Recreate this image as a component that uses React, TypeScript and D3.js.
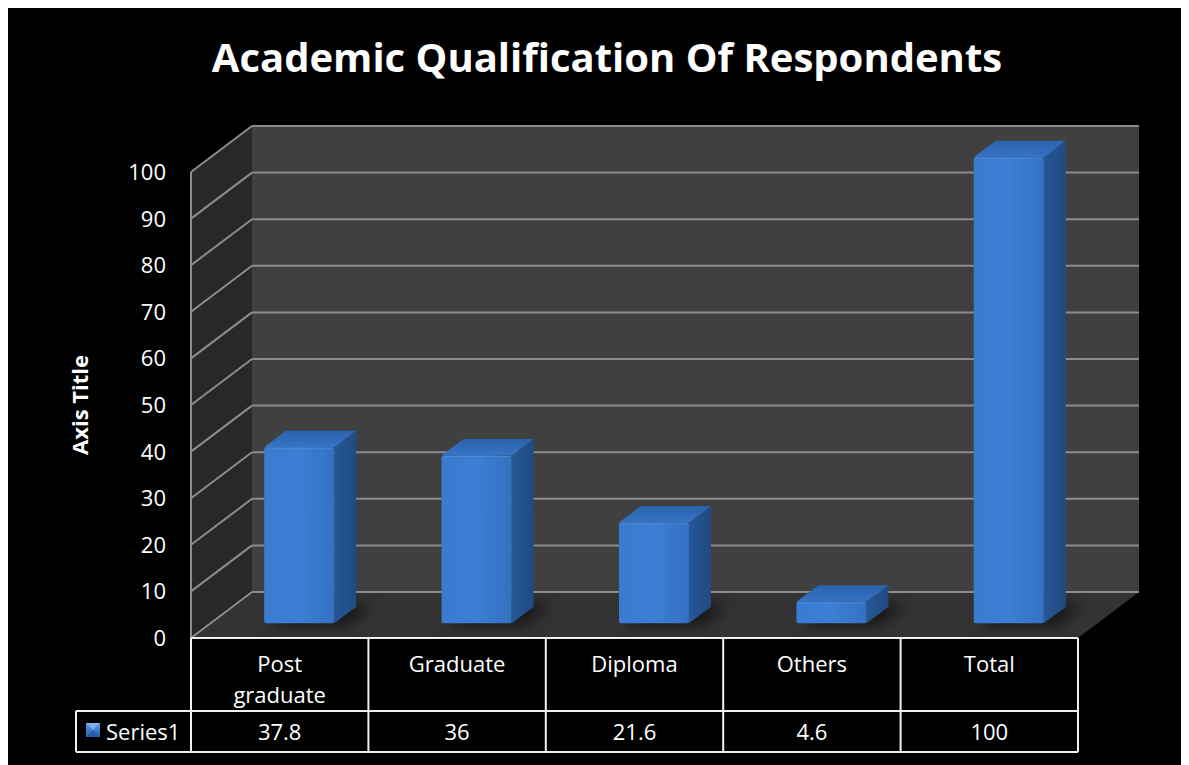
import React from "react";
import * as d3 from "d3";

// Chart data
const categories = ["Post graduate", "Graduate", "Diploma", "Others", "Total"];
const categoryLines = [["Post", "graduate"], ["Graduate"], ["Diploma"], ["Others"], ["Total"]];
const series1 = [37.8, 36, 21.6, 4.6, 100];
const valueLabels = ["37.8", "36", "21.6", "4.6", "100"];
const yTicks = [0, 10, 20, 30, 40, 50, 60, 70, 80, 90, 100];
const seriesName = "Series1";
const chartTitle = "Academic Qualification Of Respondents";
const axisTitle = "Axis Title";

const W = 1181;
const H = 757;
const FONT = "'Open Sans', 'DejaVu Sans', sans-serif";

// Plot geometry in page coordinates (the svg sits inside the 8px body margin)
const FRONT_LEFT = 191;
const FRONT_RIGHT = 1078;
const DEPTH_DX = 61;
const DEPTH_DY = -46;
const BAR_F0 = 0.32;
const BAR_F1 = 0.68;

export default function App() {
  const y = d3.scaleLinear().domain([0, 100]).range([638, 172]);
  const x = d3.scaleBand<string>().domain(categories).range([FRONT_LEFT, FRONT_RIGHT]);
  const bw = x.bandwidth();
  const barW = bw * 0.395;

  const pt = (px: number, v: number, f: number): [number, number] => [
    px + f * DEPTH_DX,
    y(v) + f * DEPTH_DY,
  ];
  const poly = (ps: [number, number][]) => ps.map((p) => p.join(",")).join(" ");

  const y0 = y(0);
  const gridColor = "#8c8c8c";

  const floor = poly([
    [FRONT_LEFT, y0],
    [FRONT_RIGHT, y0],
    [FRONT_RIGHT + DEPTH_DX, y0 + DEPTH_DY],
    [FRONT_LEFT + DEPTH_DX, y0 + DEPTH_DY],
  ]);
  const sideWall = poly([
    [FRONT_LEFT, y0],
    [FRONT_LEFT, y(100)],
    [FRONT_LEFT + DEPTH_DX, y(100) + DEPTH_DY],
    [FRONT_LEFT + DEPTH_DX, y0 + DEPTH_DY],
  ]);
  const backX0 = FRONT_LEFT + DEPTH_DX;
  const backX1 = FRONT_RIGHT + DEPTH_DX;

  const tableTop = y0;
  const rowSplit = 711;
  const tableBottom = 752;
  const legendLeft = 76;

  return (
    <svg width={W} height={H} style={{ display: "block", background: "#000" }}>
      <defs>
        <linearGradient id="frontFace" x1="0" x2="1" y1="0" y2="0">
          <stop offset="0" stopColor="#3a7bd0" />
          <stop offset="0.5" stopColor="#3c7fd4" />
          <stop offset="1" stopColor="#3471c2" />
        </linearGradient>
        <linearGradient id="sideFace" x1="0" x2="1" y1="0" y2="0">
          <stop offset="0" stopColor="#275796" />
          <stop offset="1" stopColor="#204a82" />
        </linearGradient>
        <linearGradient id="topFace" x1="0" x2="0" y1="1" y2="0">
          <stop offset="0" stopColor="#3674c6" />
          <stop offset="1" stopColor="#2b62ab" />
        </linearGradient>
        <filter id="soft" x="-50%" y="-50%" width="200%" height="200%">
          <feGaussianBlur stdDeviation="7" />
        </filter>
        <linearGradient id="marker" x1="0" x2="0" y1="0" y2="1">
          <stop offset="0" stopColor="#5b95e0" />
          <stop offset="1" stopColor="#2c63ad" />
        </linearGradient>
      </defs>
      <rect x={0} y={0} width={W} height={H} fill="#000" />
      <g transform="translate(-8,-8)">
        {/* Title */}
        <text
          x={607}
          y={72}
          textAnchor="middle"
          fill="#fff"
          fontFamily={FONT}
          fontWeight={700}
          fontSize={40}
        >
          {chartTitle}
        </text>

        {/* Walls and floor */}
        <rect x={backX0} y={y(100) + DEPTH_DY} width={backX1 - backX0} height={y0 - y(100)} fill="#404040" />
        <polygon points={sideWall} fill="#282828" />
        <polygon points={floor} fill="#333333" />

        {/* Gridlines on back and side walls */}
        {yTicks.map((t) => (
          <g key={t}>
            <line
              x1={backX0}
              x2={backX1}
              y1={y(t) + DEPTH_DY}
              y2={y(t) + DEPTH_DY}
              stroke={gridColor}
              strokeWidth={2}
            />
            <line
              x1={FRONT_LEFT}
              x2={backX0}
              y1={y(t)}
              y2={y(t) + DEPTH_DY}
              stroke={gridColor}
              strokeWidth={2}
            />
          </g>
        ))}
        <line x1={FRONT_LEFT} x2={FRONT_LEFT} y1={y(100)} y2={y0} stroke={gridColor} strokeWidth={2} />

        {/* Bar shadows */}
        {categories.map((c, i) => {
          const cx = (x(c) as number) + bw / 2;
          const l = cx - barW / 2;
          const r = cx + barW / 2;
          const a = pt(l, 0, BAR_F0);
          const b = pt(r, 0, BAR_F0);
          const bb = pt(r + 14, 0, BAR_F1 + 0.05);
          const ab = pt(l + 10, 0, BAR_F1 + 0.05);
          return (
            <polygon
              key={"s" + i}
              points={poly([
                [a[0] + 4, a[1] + 2],
                [b[0] + 14, b[1] + 2],
                bb,
                ab,
              ])}
              fill="#000"
              opacity={0.55}
              filter="url(#soft)"
            />
          );
        })}

        {/* 3D columns */}
        {categories.map((c, i) => {
          const v = series1[i];
          const cx = (x(c) as number) + bw / 2;
          const l = cx - barW / 2;
          const r = cx + barW / 2;
          const fl0 = pt(l, 0, BAR_F0);
          const fr0 = pt(r, 0, BAR_F0);
          const flv = pt(l, v, BAR_F0);
          const frv = pt(r, v, BAR_F0);
          const br0 = pt(r, 0, BAR_F1);
          const brv = pt(r, v, BAR_F1);
          const blv = pt(l, v, BAR_F1);
          return (
            <g key={c}>
              <polygon points={poly([fr0, frv, brv, br0])} fill="url(#sideFace)" />
              <polygon points={poly([flv, frv, brv, blv])} fill="url(#topFace)" />
              <rect
                x={flv[0]}
                y={flv[1]}
                width={frv[0] - flv[0]}
                height={fl0[1] - flv[1]}
                fill="url(#frontFace)"
                rx={2}
              />
              <line
                x1={flv[0] + 2}
                x2={frv[0] - 1}
                y1={flv[1] + 1}
                y2={frv[1] + 1}
                stroke="#5a93dc"
                strokeWidth={1}
                opacity={0.6}
              />
            </g>
          );
        })}

        {/* Value axis labels */}
        {yTicks.map((t) => (
          <text
            key={"t" + t}
            x={166}
            y={y(t) + 8}
            textAnchor="end"
            fill="#fff"
            fontFamily={FONT}
            fontSize={22}
          >
            {t}
          </text>
        ))}
        <text
          transform={`translate(88,405) rotate(-90)`}
          textAnchor="middle"
          fill="#fff"
          fontFamily={FONT}
          fontWeight={700}
          fontSize={22}
        >
          {axisTitle}
        </text>

        {/* Data table */}
        <g stroke="#f0f0f0" strokeWidth={2} fill="none">
          <line x1={FRONT_LEFT} x2={FRONT_RIGHT} y1={tableTop} y2={tableTop} />
          <line x1={legendLeft} x2={FRONT_RIGHT} y1={rowSplit} y2={rowSplit} />
          <line x1={legendLeft} x2={FRONT_RIGHT} y1={tableBottom} y2={tableBottom} />
          <line x1={legendLeft} x2={legendLeft} y1={rowSplit} y2={tableBottom} />
          {categories.map((c) => (
            <line key={"v" + c} x1={x(c) as number} x2={x(c) as number} y1={tableTop} y2={tableBottom} />
          ))}
          <line x1={FRONT_RIGHT} x2={FRONT_RIGHT} y1={tableTop} y2={tableBottom} />
        </g>
        {categories.map((c, i) => {
          const cx = (x(c) as number) + bw / 2;
          return (
            <g key={"lbl" + c} fill="#fff" fontFamily={FONT} fontSize={22} textAnchor="middle">
              {categoryLines[i].map((line, j) => (
                <text key={j} x={cx} y={672 + j * 31}>
                  {line}
                </text>
              ))}
              <text x={cx} y={740}>
                {valueLabels[i]}
              </text>
            </g>
          );
        })}

        {/* Legend key */}
        <rect x={86} y={723} width={14} height={14} fill="url(#marker)" />
        <polygon points={poly([[86, 723], [100, 723], [93, 730]])} fill="#8ab6ee" opacity={0.8} />
        <polygon points={poly([[86, 737], [100, 737], [93, 730]])} fill="#2a5ea6" />
        <text x={106} y={740} fill="#fff" fontFamily={FONT} fontSize={22}>
          {seriesName}
        </text>
      </g>
    </svg>
  );
}
